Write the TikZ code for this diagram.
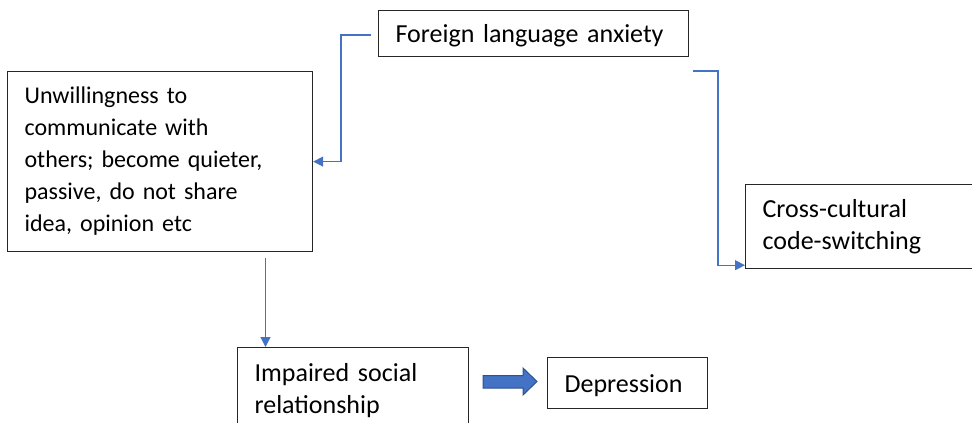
\documentclass[tikz,border=0pt]{standalone}
\usepackage{fontspec}
\setmainfont{Carlito}
\usetikzlibrary{arrows.meta,calc}
\definecolor{lnblue}{HTML}{4472C4}
\definecolor{arrowedge}{HTML}{2F528F}
\definecolor{boxedge}{HTML}{262626}
\begin{document}
\begin{tikzpicture}[x=1pt,y=-1pt,
  box/.style={draw=boxedge, line width=1.2pt, anchor=north west, align=left,
    inner xsep=17pt, inner ysep=0pt, font=\fontsize{26}{32}\selectfont},
  onelinebox/.style={box, text depth=0pt},
  smallbox/.style={box, font=\fontsize{24}{32}\selectfont},
  conn/.style={draw=lnblue, line width=1.2pt, -{Triangle[length=10pt,width=10pt]}},
  blockarrow/.style={fill=lnblue, draw=arrowedge, line width=1pt}]
\useasboundingbox (0,0) rectangle (972,423);
\clip (0,0) rectangle (972,423);
\node[onelinebox, text width=276pt, minimum height=46pt] (fla) at (378,10) {Foreign language anxiety};
\node[smallbox, text width=271pt, minimum height=180pt] (unw) at (7,71)
  {Unwillingness to\\communicate with\\others; become quieter,\\passive, do not share\\idea, opinion etc};
\node[box, text width=211pt, minimum height=84pt] (ccs) at (745,184)
  {Cross-cultural\\code-switching};
\node[box, text width=197pt, minimum height=86pt] (isr) at (237,347)
  {Impaired social\\relationship};
\node[onelinebox, text width=126pt, minimum height=51pt] (dep) at (547,357) {Depression};
% connectors
\coordinate (c1s) at (371,35);
\draw[conn] (c1s) -- ++(-30,0) |- (unw.east);
\coordinate (c2s) at (693,71);
\coordinate (c2e) at ($(ccs.south west)+(0,-4)$);
\draw[conn] (c2s) -- ++(25,0) |- (c2e);
\coordinate (c3s) at (265.5,258);
\coordinate (c3e) at ($(isr.north west)+(28.5,0)$);
\draw[conn] (c3s) -- (c3e);
% block arrow
\draw[blockarrow] (483,375.5) -- (523,375.5) -- (523,368) -- (537,381.5)
  -- (523,395) -- (523,388) -- (483,388) -- cycle;
\end{tikzpicture}
\end{document}
